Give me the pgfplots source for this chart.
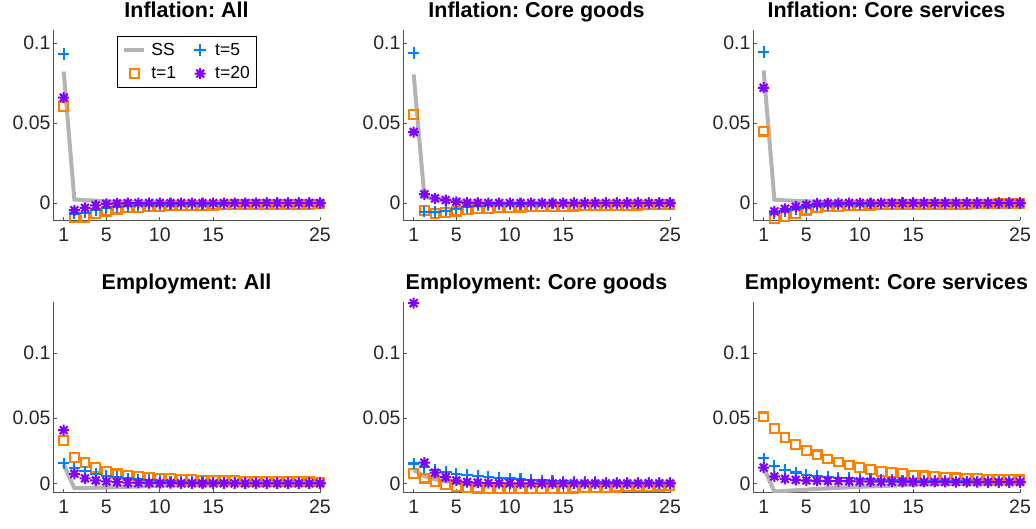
\documentclass[border=0pt]{standalone}
\usepackage{fontspec}
\setmainfont{Liberation Sans}
\usepackage{pgfplots}
\usepackage{pgfplotstable}
\pgfplotsset{compat=1.18}

\definecolor{ssgray}{RGB}{179,179,179}
\definecolor{cone}{RGB}{255,128,0}
\definecolor{cfive}{RGB}{0,128,255}
\definecolor{ctwenty}{RGB}{128,0,255}
\definecolor{axgray}{RGB}{38,38,38}

\pgfdeclareplotmark{mstar}{%
  \pgfpathmoveto{\pgfqpoint{0pt}{\pgfplotmarksize}}%
  \pgfpathlineto{\pgfqpoint{0pt}{-\pgfplotmarksize}}%
  \pgfpathmoveto{\pgfqpoint{\pgfplotmarksize}{0pt}}%
  \pgfpathlineto{\pgfqpoint{-\pgfplotmarksize}{0pt}}%
  \pgfpathmoveto{\pgfqpoint{0.7071\pgfplotmarksize}{0.7071\pgfplotmarksize}}%
  \pgfpathlineto{\pgfqpoint{-0.7071\pgfplotmarksize}{-0.7071\pgfplotmarksize}}%
  \pgfpathmoveto{\pgfqpoint{-0.7071\pgfplotmarksize}{0.7071\pgfplotmarksize}}%
  \pgfpathlineto{\pgfqpoint{0.7071\pgfplotmarksize}{-0.7071\pgfplotmarksize}}%
  \pgfusepathqstroke
}

\pgfplotstableread{
x ss t1 t5 t20
1 0.0822 0.0604 0.0933 0.0659
2 0.0022 -0.0090 -0.0065 -0.0045
3 0.0018 -0.0090 -0.0060 -0.0030
4 0.0015 -0.0068 -0.0045 -0.0014
5 0.0012 -0.0050 -0.0032 -0.0005
6 0.0010 -0.0038 -0.0024 -0.0002
7 0.0008 -0.0030 -0.0018 -0.0001
8 0.0007 -0.0026 -0.0014 0
9 0.0006 -0.0023 -0.0011 0
10 0.0005 -0.0020 -0.0009 0
11 0.0004 -0.0018 -0.0007 0
12 0.0003 -0.0016 -0.0006 0
13 0.0003 -0.0015 -0.0005 0
14 0.0002 -0.0014 -0.0004 0
15 0.0002 -0.0013 -0.0003 0
16 0.0002 -0.0012 -0.0003 0
17 0.0001 -0.0011 -0.0002 0
18 0.0001 -0.0010 -0.0002 0
19 0.0001 -0.0009 -0.0002 0
20 0.0001 -0.0009 -0.0001 0
21 0.0001 -0.0008 -0.0001 0
22 0 -0.0008 -0.0001 0
23 0 -0.0007 -0.0001 0
24 0 -0.0007 0 0
25 0 -0.0006 0 0
}\dataA

\pgfplotstableread{
x ss t1 t5 t20
1 0.0804 0.0554 0.0937 0.0444
2 0.0040 -0.0048 -0.0054 0.0055
3 0.0025 -0.0066 -0.0056 0.0029
4 0.0016 -0.0060 -0.0047 0.0019
5 0.0010 -0.0050 -0.0035 0.0008
6 0.0006 -0.0042 -0.0025 0.0002
7 0.0004 -0.0036 -0.0016 0.0001
8 0.0002 -0.0032 -0.0011 0
9 0.0001 -0.0029 -0.0008 0
10 0.0001 -0.0027 -0.0006 0
11 0 -0.0025 -0.0005 0
12 0 -0.0023 -0.0004 0
13 0 -0.0022 -0.0003 0
14 0 -0.0021 -0.0002 0
15 0 -0.0020 -0.0002 0
16 0 -0.0019 -0.0001 0
17 0 -0.0018 -0.0001 0
18 0 -0.0017 -0.0001 0
19 0 -0.0016 0 0
20 0 -0.0015 0 0
21 0 -0.0014 0 0
22 0 -0.0013 0 0
23 0 -0.0012 0 0
24 0 -0.0011 0 0
25 0 -0.0010 0 0
}\dataB

\pgfplotstableread{
x ss t1 t5 t20
1 0.0829 0.0450 0.0943 0.0721
2 0.0022 -0.0097 -0.0062 -0.0052
3 0.0017 -0.0085 -0.0050 -0.0036
4 0.0014 -0.0064 -0.0036 -0.0023
5 0.0011 -0.0044 -0.0024 -0.0012
6 0.0009 -0.0031 -0.0016 -0.0004
7 0.0007 -0.0024 -0.0011 -0.0002
8 0.0006 -0.0020 -0.0008 -0.0001
9 0.0005 -0.0017 -0.0006 0
10 0.0004 -0.0015 -0.0004 0
11 0.0003 -0.0013 -0.0003 0
12 0.0003 -0.0012 -0.0002 0
13 0.0002 -0.0011 -0.0002 0
14 0.0002 -0.0010 -0.0001 0
15 0.0001 -0.0009 -0.0001 0
16 0.0001 -0.0009 -0.0001 0
17 0.0001 -0.0008 0 0
18 0.0001 -0.0008 0 0
19 0 -0.0007 0 0
20 0 -0.0007 0 0
21 0 -0.0006 0 0
22 0 -0.0006 0 0
23 0 -0.0005 0 0
24 0 -0.0005 0 0
25 0 -0.0005 0 0
}\dataC

\pgfplotstableread{
x ss t1 t5 t20
1 0.0145 0.0330 0.0153 0.0408
2 -0.0037 0.0198 0.0115 0.0073
3 -0.0036 0.0160 0.0092 0.0038
4 -0.0034 0.0122 0.0073 0.0023
5 -0.0032 0.0092 0.0058 0.0015
6 -0.0030 0.0072 0.0047 0.0009
7 -0.0027 0.0060 0.0038 0.0005
8 -0.0024 0.0052 0.0030 0.0003
9 -0.0021 0.0046 0.0024 0.0002
10 -0.0018 0.0040 0.0019 0.0001
11 -0.0016 0.0035 0.0015 0.0001
12 -0.0014 0.0031 0.0012 0
13 -0.0012 0.0028 0.0010 0
14 -0.0010 0.0025 0.0008 0
15 -0.0008 0.0023 0.0007 0
16 -0.0007 0.0021 0.0006 0
17 -0.0006 0.0019 0.0005 0
18 -0.0005 0.0017 0.0004 0
19 -0.0004 0.0016 0.0003 0
20 -0.0003 0.0015 0.0003 0
21 -0.0003 0.0014 0.0002 0
22 -0.0002 0.0013 0.0002 0
23 -0.0002 0.0012 0.0002 0
24 -0.0001 0.0011 0.0001 0
25 -0.0001 0.0010 0.0001 0
}\dataD

\pgfplotstableread{
x ss t1 t5 t20
1 0.0100 0.0078 0.0152 0.1383
2 0.0055 0.0040 0.0125 0.0159
3 0.0030 0.0014 0.0105 0.0082
4 0.0015 -0.0008 0.0088 0.0047
5 0.0005 -0.0024 0.0072 0.0022
6 -0.0002 -0.0032 0.0062 0.0010
7 -0.0006 -0.0037 0.0055 0.0005
8 -0.0008 -0.0040 0.0048 0.0002
9 -0.0009 -0.0041 0.0042 0.0001
10 -0.0009 -0.0042 0.0037 0
11 -0.0009 -0.0042 0.0032 0
12 -0.0008 -0.0042 0.0027 0
13 -0.0008 -0.0041 0.0022 0
14 -0.0007 -0.0040 0.0018 0
15 -0.0006 -0.0039 0.0015 0
16 -0.0006 -0.0037 0.0012 0
17 -0.0005 -0.0035 0.0010 0
18 -0.0005 -0.0033 0.0008 0
19 -0.0004 -0.0031 0.0007 0
20 -0.0004 -0.0029 0.0006 0
21 -0.0003 -0.0027 0.0005 0
22 -0.0003 -0.0025 0.0004 0
23 -0.0003 -0.0023 0.0003 0
24 -0.0002 -0.0021 0.0003 0
25 -0.0002 -0.0019 0.0002 0
}\dataE

\pgfplotstableread{
x ss t1 t5 t20
1 0.0120 0.0510 0.0192 0.0121
2 -0.0063 0.0421 0.0136 0.0052
3 -0.0058 0.0350 0.0103 0.0034
4 -0.0053 0.0299 0.0083 0.0027
5 -0.0048 0.0250 0.0066 0.0022
6 -0.0043 0.0218 0.0057 0.0020
7 -0.0039 0.0187 0.0050 0.0018
8 -0.0035 0.0164 0.0044 0.0017
9 -0.0031 0.0141 0.0039 0.0016
10 -0.0027 0.0124 0.0035 0.0015
11 -0.0024 0.0108 0.0031 0.0014
12 -0.0021 0.0093 0.0028 0.0013
13 -0.0018 0.0083 0.0025 0.0013
14 -0.0015 0.0073 0.0023 0.0012
15 -0.0012 0.0064 0.0021 0.0012
16 -0.0010 0.0057 0.0019 0.0011
17 -0.0008 0.0051 0.0017 0.0011
18 -0.0006 0.0046 0.0016 0.0011
19 -0.0005 0.0042 0.0015 0.0010
20 -0.0004 0.0038 0.0014 0.0010
21 -0.0003 0.0035 0.0013 0.0010
22 -0.0002 0.0032 0.0012 0.0010
23 -0.0002 0.0030 0.0011 0.0010
24 -0.0001 0.0028 0.0010 0.0010
25 -0.0001 0.0026 0.0010 0.0010
}\dataF

\pgfplotsset{
  panel/.style={
    scale only axis, width=267bp, anchor=south west,
    xmin=0, xmax=25,
    axis x line*=bottom, axis y line*=left,
    axis line style={-, draw=axgray!80, line width=0.8bp},
    xtick={1,5,10,15,25}, xticklabels={1,5,10,15,25},
    ytick={0,0.05,0.1}, yticklabels={0,0.05,0.1},
    tick align=inside, major tick length=3.5bp,
    tick style={draw=axgray!80, line width=0.7bp},
    tick label style={font=\fontsize{19.5bp}{23bp}\selectfont, text=axgray},
    xticklabel style={yshift=-4bp},
    yticklabel style={xshift=1bp},
    title style={font=\frenchspacing\bfseries\fontsize{21.5bp}{25bp}\selectfont, at={(0.5,1)}, anchor=base, yshift=7bp},
    clip mode=individual,
  },
  toprow/.style={panel, height=190.5bp, ymin=-0.0109, ymax=0.1082},
  botrow/.style={panel, height=190.7bp, ymin=-0.0072, ymax=0.1392},
  ssline/.style={draw=ssgray, line width=4bp, no marks},
  oneS/.style={draw=cone, mark=square, mark size=4.4bp, line width=2.1bp},
  fiveS/.style={draw=cfive, mark=+, mark size=5.8bp, line width=2.1bp},
  twentyS/.style={draw=ctwenty, mark=mstar, mark size=5.5bp, line width=2.1bp},
  legline/.style={legend image code/.code={\draw[##1] (0bp,0bp) -- (20bp,0bp);}},
  legmark/.style={legend image code/.code={\path[draw=none,fill=none] (0bp,0bp) -- (20bp,0bp); \draw[##1] plot coordinates {(10bp,0bp)};}},
}

\newcommand{\panelplots}[1]{%
  \addplot[ssline, forget plot] table[x=x,y=ss]{#1};
  \addplot[oneS, only marks, forget plot] table[x=x,y=t1]{#1};
  \addplot[fiveS, only marks, forget plot] table[x=x,y=t5]{#1};
  \addplot[twentyS, only marks, forget plot] table[x=x,y=t20]{#1};
}

\begin{document}
\begin{tikzpicture}
\useasboundingbox (0,0) rectangle (1036bp,529bp);

\begin{axis}[toprow, at={(53bp,308.5bp)}, title={Inflation: All},
  legend columns=2, legend cell align=left,
  legend style={at={(0.24,0.97)}, anchor=north west, draw=black, line width=0.6bp,
    fill=white, font=\fontsize{17.5bp}{20bp}\selectfont,
    inner xsep=5bp, inner ysep=5bp, row sep=6bp,
    nodes={inner sep=2bp, text depth=0.15em},
    /tikz/every odd column/.append style={column sep=3bp},
    /tikz/every even column/.append style={column sep=12bp}}]
\addlegendimage{ssline, legline}
\addlegendentry{SS}
\addlegendimage{fiveS, legmark}
\addlegendentry{t=5}
\addlegendimage{oneS, legmark}
\addlegendentry{t=1}
\addlegendimage{twentyS, legmark}
\addlegendentry{t=20}
\panelplots{\dataA}
\end{axis}

\begin{axis}[toprow, at={(403bp,308.5bp)}, title={Inflation: Core goods}]
\panelplots{\dataB}
\end{axis}

\begin{axis}[toprow, at={(753bp,308.5bp)}, title={Inflation: Core services}]
\panelplots{\dataC}
\end{axis}

\begin{axis}[botrow, at={(53bp,36.3bp)}, title={Employment: All}]
\panelplots{\dataD}
\end{axis}

\begin{axis}[botrow, at={(403bp,36.3bp)}, title={Employment: Core goods}]
\panelplots{\dataE}
\end{axis}

\begin{axis}[botrow, at={(753bp,36.3bp)}, title={Employment: Core services}]
\panelplots{\dataF}
\end{axis}
\end{tikzpicture}
\end{document}
